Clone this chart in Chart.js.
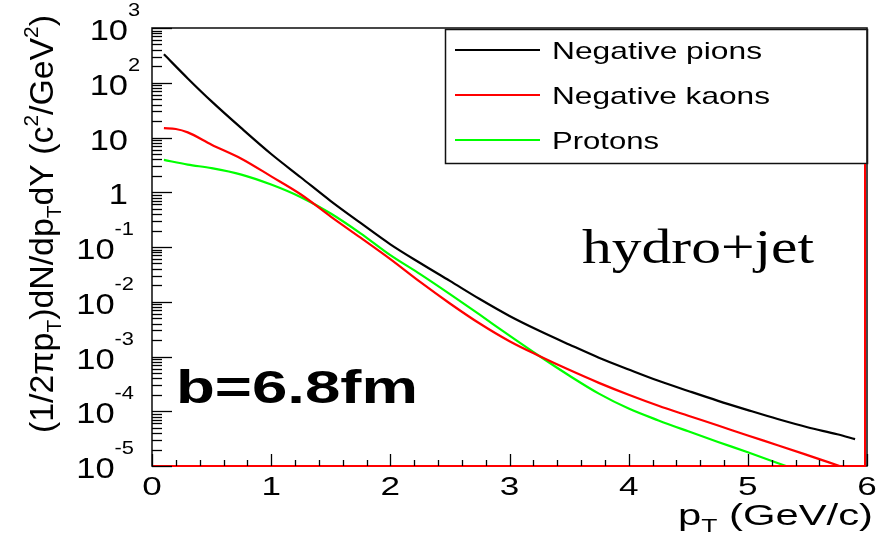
<!DOCTYPE html>
<html><head><meta charset="utf-8">
<script src="https://cdn.jsdelivr.net/npm/chart.js@4/dist/chart.umd.min.js"></script>
<style>html,body{margin:0;padding:0;background:#fff;overflow:hidden}#wrap{width:884px;height:538px}</style>
</head><body><div id="wrap"><canvas id="c" width="884" height="538"></canvas></div>
<script>
// ---- data ----
const ptPions = [0.1,0.3,0.5,0.75,1.0,1.25,1.5,1.75,2.0,2.25,2.5,2.75,3.0,3.25,3.5,3.75,4.0,4.25,4.5,4.75,5.0,5.25,5.5,5.75,5.9];
const pions   = [331,120,45.7,14.8,5.0,1.86,0.69,0.275,0.112,0.051,0.024,0.0112,0.0055,0.00295,0.00166,0.00095,0.00058,0.00036,0.000235,0.000155,0.000105,0.000072,0.000051,0.000038,0.000031];
const ptKaons = [0.1,0.2,0.3,0.5,0.75,1.0,1.25,1.5,1.75,2.0,2.25,2.5,2.75,3.0,3.25,3.5,3.75,4.0,4.25,4.5,4.75,5.0,5.25,5.5,5.77];
const kaons   = [14.8,14.3,12.4,7.4,4.1,1.95,0.91,0.36,0.148,0.060,0.023,0.0093,0.0040,0.0019,0.00102,0.00057,0.00033,0.0002,0.000126,0.000083,0.000055,0.000036,0.000024,0.0000158,0.00001];
const ptProtons = [0.1,0.3,0.5,0.75,1.0,1.25,1.5,1.75,2.0,2.25,2.5,2.75,3.0,3.25,3.5,3.75,4.0,4.25,4.5,4.75,5.0,5.32];
const protons   = [3.9,3.2,2.75,2.1,1.38,0.81,0.41,0.178,0.071,0.032,0.0138,0.0058,0.0024,0.00102,0.00045,0.00021,0.000112,0.000068,0.000043,0.0000275,0.0000178,0.00001];
const seriesNames = ['Negative pions','Negative kaons','Protons'];
const seriesColors = ['#000000','#ff0000','#00ff00'];
const xTickValues = [0,1,2,3,4,5,6];
const xTickLabels = ['0','1','2','3','4','5','6'];
const yTickValues = [1e3,1e2,1e1,1,1e-1,1e-2,1e-3,1e-4,1e-5];
const yTickBase = ['10','10','10','1','10','10','10','10','10'];
const yTickExp  = ['3','2','','','-1','-2','-3','-4','-5'];
const annotationModel = 'hydro+jet';
const annotationImpact = 'b=6.8fm';

function pts(xs, ys){ return xs.map((x,i)=>({x:x,y:ys[i]})); }

// rich text helpers (segments: {t,size,dy,weight,family})
function segFont(s){ return (s.weight||'normal')+' '+s.size+'px '+(s.family||'"Liberation Sans", Arial, sans-serif'); }
function richWidth(ctx, segs){ let w=0; for(const s of segs){ ctx.font=segFont(s); w+=ctx.measureText(s.t).width; } return w; }
function drawRich(ctx, segs, x, y, align, stretch, targetW){
  const W = richWidth(ctx, segs);
  const sx = targetW ? targetW/W : (stretch||1);
  const tw = W*sx;
  let x0 = align==='right' ? x-tw : (align==='center' ? x-tw/2 : x);
  ctx.save();
  ctx.translate(x0, y);
  ctx.scale(sx,1);
  ctx.textBaseline='alphabetic'; ctx.textAlign='left';
  let cx=0;
  for(const s of segs){ ctx.font=segFont(s); ctx.fillText(s.t, cx, s.dy||0); cx+=ctx.measureText(s.t).width; }
  ctx.restore();
  return tw;
}

const LEG = {l:445, t:29, r:867, b:163};

const decor = {
  id:'decor',
  beforeDraw(chart){
    const ctx=chart.ctx; ctx.save(); ctx.fillStyle='#fff'; ctx.fillRect(0,0,chart.width,chart.height); ctx.restore();
  },
  afterDatasetsDraw(chart){
    const ctx=chart.ctx, a=chart.chartArea, xs=chart.scales.x, ys=chart.scales.y;
    ctx.save();
    // legend box
    ctx.fillStyle='#fff'; ctx.fillRect(LEG.l, LEG.t, LEG.r-LEG.l, LEG.b-LEG.t);
    ctx.lineWidth=1.5; ctx.strokeStyle='#111'; ctx.strokeRect(LEG.l+0.5, LEG.t+0.5, LEG.r-LEG.l, LEG.b-LEG.t);
    const rowY=[50,95,140], txtW=[210,218,107];
    chart.data.datasets.forEach((ds,i)=>{
      ctx.strokeStyle=ds.borderColor; ctx.lineWidth=2.2;
      ctx.beginPath(); ctx.moveTo(455,rowY[i]); ctx.lineTo(540,rowY[i]); ctx.stroke();
      ctx.fillStyle='#000';
      drawRich(ctx,[{t:ds.label,size:24}],552,rowY[i]+9,'left',null,txtW[i]);
    });
    // frame
    ctx.strokeStyle='#1a1a1a'; ctx.lineWidth=1.6;
    ctx.strokeRect(a.left, a.top, a.right-a.left, a.bottom-a.top);
    // red histogram edges
    ctx.strokeStyle='#ff0000'; ctx.lineWidth=2;
    ctx.beginPath(); ctx.moveTo(a.left, a.bottom); ctx.lineTo(a.right-2, a.bottom); ctx.lineTo(a.right-2, LEG.b+1); ctx.stroke();
    // y ticks
    ctx.strokeStyle='#000'; ctx.lineWidth=1.3;
    for(let e=-5;e<=3;e++){
      const py=Math.round(ys.getPixelForValue(Math.pow(10,e)))+0.5;
      ctx.beginPath(); ctx.moveTo(a.left,py); ctx.lineTo(a.left+20,py); ctx.stroke();
      if(e<3) for(let m=2;m<=9;m++){
        const qy=Math.round(ys.getPixelForValue(m*Math.pow(10,e)))+0.5;
        ctx.beginPath(); ctx.moveTo(a.left,qy); ctx.lineTo(a.left+10,qy); ctx.stroke();
      }
    }
    // x ticks
    for(let k=0;k<=30;k++){
      const v=k*0.2, px=Math.round(xs.getPixelForValue(v))+0.5;
      const len = (k%5===0)?12:6;
      ctx.beginPath(); ctx.moveTo(px,a.bottom); ctx.lineTo(px,a.bottom-len); ctx.stroke();
    }
    // y tick labels
    ctx.fillStyle='#000';
    const ST=1.15;
    yTickValues.forEach((v,i)=>{
      const py=ys.getPixelForValue(v);
      const base=yTickBase[i], ex=yTickExp[i];
      if(ex===''){ drawRich(ctx,[{t:base,size:30}],128,py+12,'right',ST); }
      else if(ex.startsWith('-')){
        const ew=drawRich(ctx,[{t:ex,size:19}],134,py-12,'right',ST);
        drawRich(ctx,[{t:base,size:30}],134-ew,py+12,'right',ST);
      } else {
        drawRich(ctx,[{t:base,size:30}],128,py+12,'right',ST);
        drawRich(ctx,[{t:ex,size:19}],128,py-12,'left',ST);
      }
    });
    // x tick labels
    xTickValues.forEach((v,i)=>{
      drawRich(ctx,[{t:xTickLabels[i],size:26}],xs.getPixelForValue(v),495,'center',1.35);
    });
    // x title
    drawRich(ctx,[{t:'p',size:30},{t:'T',size:19,dy:7},{t:' (GeV/c)',size:30}],873,525,'right',null,195);
    // y title (rotated)
    ctx.save();
    ctx.translate(53,224); ctx.rotate(-Math.PI/2);
    drawRich(ctx,[{t:'(1/2\u03c0p',size:34},{t:'T',size:21,dy:8},{t:')dN/dp',size:34},{t:'T',size:21,dy:8},{t:'dY (c',size:34},{t:'2',size:21,dy:-15},{t:'/GeV',size:34},{t:'2',size:21,dy:-15},{t:')',size:34}],0,0,'center',null,418);
    ctx.restore();
    // annotations
    drawRich(ctx,[{t:annotationModel,size:48,family:'"Liberation Serif", "Times New Roman", serif'}],582,263,'left',null,232);
    drawRich(ctx,[{t:annotationImpact,size:46,weight:'bold'}],176,403,'left',null,242);
    ctx.restore();
  }
};

new Chart(document.getElementById('c'),{
  type:'line',
  data:{datasets:[
    {label:seriesNames[0],data:pts(ptPions,pions),borderColor:seriesColors[0]},
    {label:seriesNames[1],data:pts(ptKaons,kaons),borderColor:seriesColors[1]},
    {label:seriesNames[2],data:pts(ptProtons,protons),borderColor:seriesColors[2]}
  ]},
  options:{
    responsive:false, animation:false, devicePixelRatio:1,
    layout:{padding:{left:152,right:17,top:28,bottom:72}},
    elements:{point:{radius:0},line:{borderWidth:2.2,cubicInterpolationMode:'monotone',fill:false}},
    scales:{
      x:{type:'linear',min:0,max:6,display:false},
      y:{type:'logarithmic',min:1e-5,max:1e3,display:false}
    },
    plugins:{legend:{display:false},tooltip:{enabled:false},title:{display:false}}
  },
  plugins:[decor]
});
</script></body></html>
